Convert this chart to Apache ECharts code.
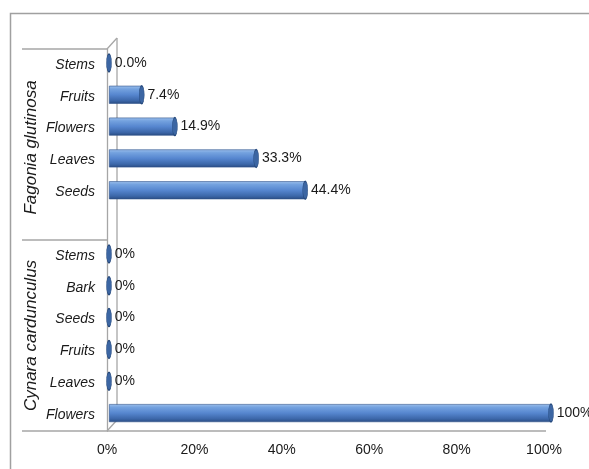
<!DOCTYPE html>
<html>
<head>
<meta charset="utf-8">
<script src="https://cdn.jsdelivr.net/npm/echarts@6/dist/echarts.min.js"></script>
<style>
html,body{margin:0;padding:0;background:#fff;}
#chart{width:589px;height:469px;}
</style>
</head>
<body>
<div id="chart"></div>
<script>
// ---- data ----
const categories = ['Stems','Fruits','Flowers','Leaves','Seeds','','Stems','Bark','Seeds','Fruits','Leaves','Flowers'];
const values = [0, 7.4, 14.9, 33.3, 44.4, null, 0, 0, 0, 0, 0, 100];
const valueLabels = ['0.0%','7.4%','14.9%','33.3%','44.4%','','0%','0%','0%','0%','0%','100%'];
const groupNames = ['Fagonia glutinosa','Cynara cardunculus'];
const groupSpans = [[0,5],[6,11]]; // category index ranges
const xMin = 0, xMax = 100, xStep = 20;

// ---- layout ----
const SANS = "'Liberation Sans',Arial,sans-serif";
const G = {left:107, top:49, width:437, height:382};   // front plane
const B = {left:109, top:47, width:442, height:382};   // bar plane
const D = 10, DY = 11; // depth offset
const boxLeft = 22;
const lineC = '#a6a6a6';

const chart = echarts.init(document.getElementById('chart'), null, {renderer:'canvas'});

const slot = G.height / categories.length;
const graphics = [];
function line(x1,y1,x2,y2,w){graphics.push({type:'line',silent:true,shape:{x1,y1,x2,y2},style:{stroke:lineC,lineWidth:w||1.3}});}
// outer border (top & left visible)
graphics.push({type:'rect',silent:true,shape:{x:10.5,y:13.5,width:700,height:700},style:{fill:null,stroke:'#a0a0a0',lineWidth:1.5}});
// group box lines
const bottom = G.top + G.height;
line(boxLeft, G.top, G.left, G.top);
groupSpans.forEach((s,i)=>{ const y = G.top + (s[1]+1)*slot; line(boxLeft, y, i===groupSpans.length-1 ? G.left+G.width+2 : G.left, y); });
// 3D back wall
line(G.left, G.top, G.left+D, G.top-DY);
line(G.left+D, G.top-DY, G.left+D, bottom-DY);
line(G.left, bottom, G.left+D, bottom-DY);
// group labels
groupSpans.forEach((s,i)=>{
  const yc = G.top + (s[0] + (s[1]-s[0]+1)/2)*slot + (i===0?3:0);
  graphics.push({type:'text',silent:true,x:31,y:yc,rotation:Math.PI/2,
    style:{text:groupNames[i],font:'italic 17px '+SANS,fill:'#1a1a1a',align:'center',verticalAlign:'middle'}});
});

const barGrad = new echarts.graphic.LinearGradient(0,0,0,1,[
  {offset:0,color:'#9dc0ec'},{offset:0.18,color:'#74a2df'},{offset:0.5,color:'#5686cf'},
  {offset:0.82,color:'#3c67a9'},{offset:1,color:'#2a4c82'}]);

chart.setOption({
  animation:false,
  grid:[
    {left:G.left, top:G.top, width:G.width, height:G.height, containLabel:false},
    {left:B.left, top:B.top, width:B.width, height:B.height, containLabel:false}
  ],
  xAxis:[
    {gridIndex:0,type:'value',min:xMin,max:xMax,interval:xStep,
     axisLine:{show:false},axisTick:{show:false},splitLine:{show:false},
     axisLabel:{formatter:'{value}%',margin:12,color:'#1a1a1a',fontFamily:SANS,fontSize:14}},
    {gridIndex:1,type:'value',min:xMin,max:xMax,show:false}
  ],
  yAxis:[
    {gridIndex:0,type:'category',data:categories,inverse:true,
     axisLine:{show:true,lineStyle:{color:lineC,width:1.3}},axisTick:{show:false},
     axisLabel:{margin:12,color:'#1a1a1a',fontFamily:SANS,fontSize:14,fontStyle:'italic'}},
    {gridIndex:1,type:'category',data:categories,inverse:true,show:false}
  ],
  series:[
    {type:'bar',xAxisIndex:1,yAxisIndex:1,data:values,barWidth:18,
     itemStyle:{color:barGrad,borderColor:'#2d5189',borderWidth:0.6}},
    {type:'scatter',xAxisIndex:1,yAxisIndex:1,symbol:'circle',symbolSize:[5,18],
     data:values.map((v,i)=> v===null?null:[v,i]),
     itemStyle:{color:'#3c66a3',borderColor:'#26497c',borderWidth:0.8,opacity:1},
     label:{show:true,position:'right',distance:3,color:'#1a1a1a',fontFamily:SANS,fontSize:14,
       formatter:p=>valueLabels[p.dataIndex]}}
  ],
  graphic:graphics
});
</script>
</body>
</html>
